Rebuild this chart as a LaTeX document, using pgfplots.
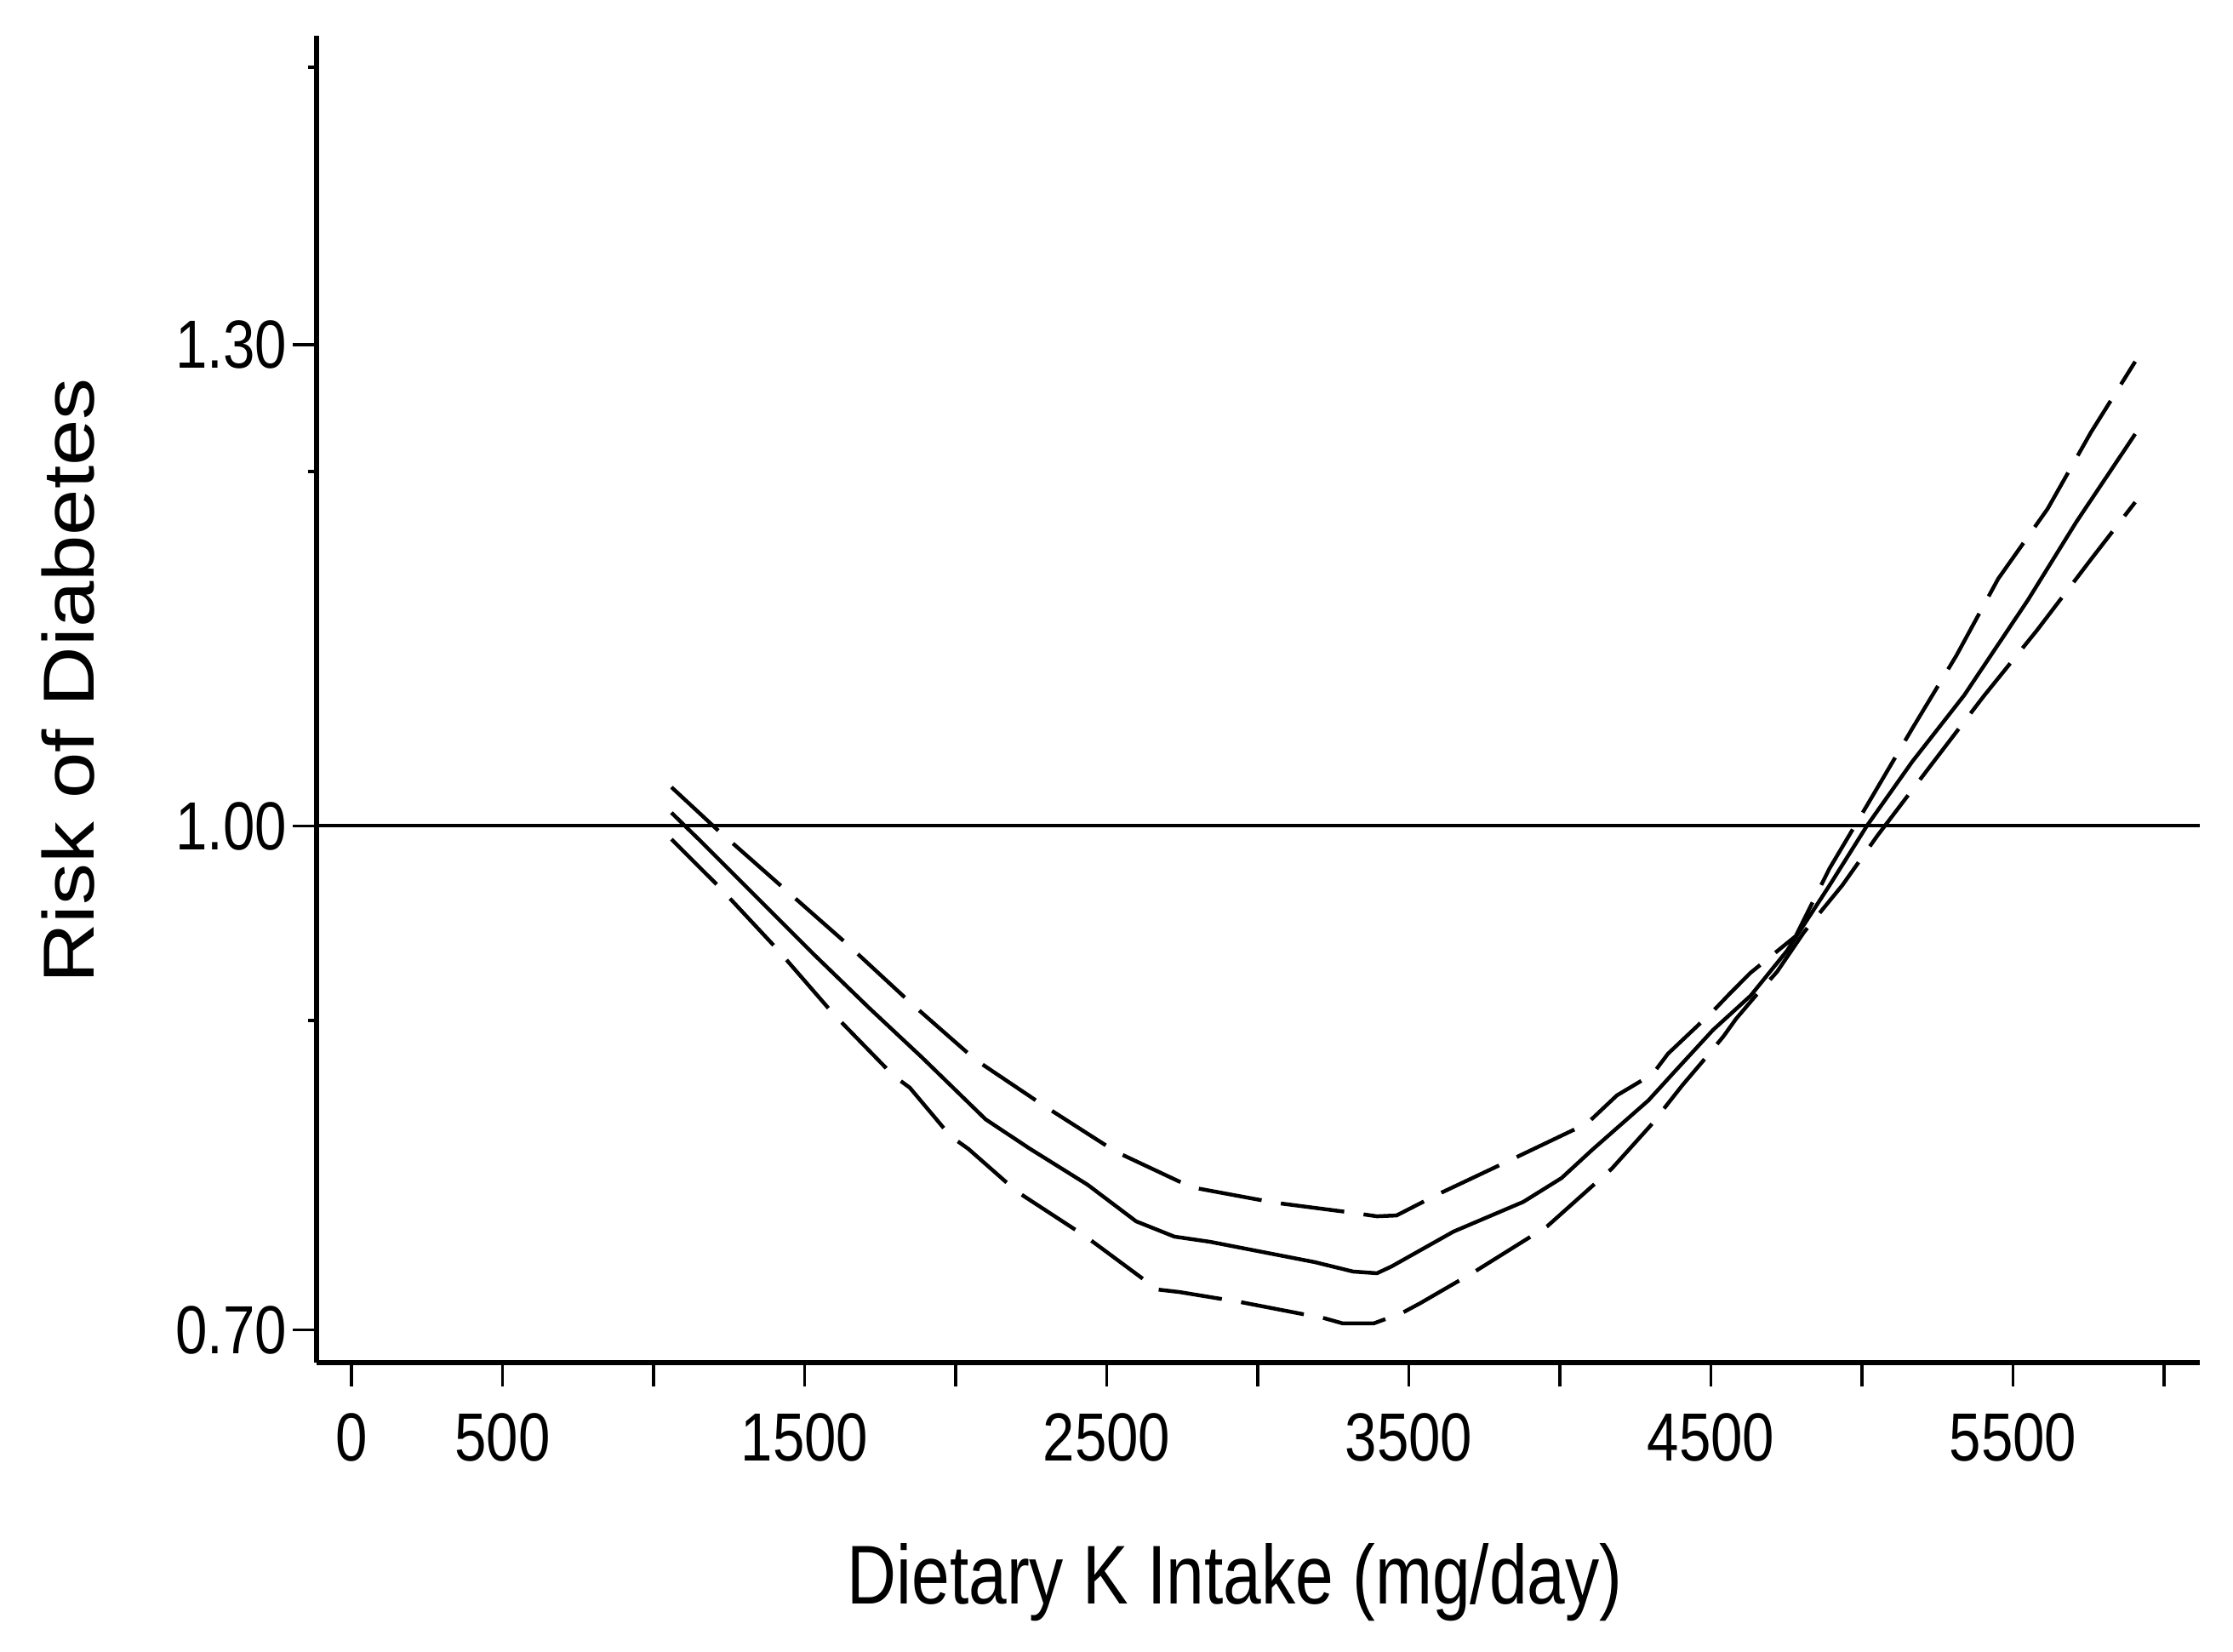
\documentclass[border=0pt]{standalone}
\usepackage{fontspec}
\usepackage{pgfplots}
\pgfplotsset{compat=1.18}
\setmainfont{Liberation Sans}
% the source image is stretched vertically, so the letters are narrowed
\newfontfamily\tickfont{Liberation Sans}[FakeStretch=0.84]
\newfontfamily\xlabfont{Liberation Sans}[FakeStretch=0.82]
\newfontfamily\ylabfont{Liberation Sans}[FakeStretch=1.15]

\begin{document}
\begin{tikzpicture}
\path[use as bounding box] (-37.2pt,-34.0pt) rectangle (225.2pt,160.1pt);
\begin{axis}[
    scale only axis,
    width=221.3pt, height=155.9pt,
    xmin=-115.5, xmax=6118,
    ymin=0.6805, ymax=1.4705,
    axis x line=bottom,
    axis y line=left,
    axis line style={-, line width=0.6pt},
    tick align=outside,
    major tick length=2.8pt,
    minor tick length=1.0pt,
    tick style={black, line width=0.35pt},
    xtick={0,500,...,6000},
    xticklabels={0,500,,1500,,2500,,3500,,4500,,5500,},
    ytick={0.70,1.00,1.2866},
    yticklabels={0.70,1.00,1.30},
    minor ytick={0.8842,1.2111,1.4518},
    tick label style={font=\tickfont\fontsize{8}{9}\selectfont, inner sep=0pt},
    xticklabel style={anchor=base, yshift=-8.8pt},
    yticklabel style={anchor=east, xshift=-0.5pt},
    xlabel={Dietary K Intake (mg/day)},
    xlabel style={font=\xlabfont\fontsize{9.8}{11}\selectfont, inner sep=0pt,
        at={(axis description cs:0.4876,-0.1822)}, anchor=base},
    ylabel={Risk of Diabetes},
    ylabel style={font=\ylabfont\fontsize{8.5}{10}\selectfont, inner sep=0pt,
        at={(axis description cs:-0.1319,0.5138)}, anchor=center},
    clip=false,
  ]

  % reference line at 1.00
  \addplot[black, line width=0.4pt] coordinates {(-115.5,1) (6118,1)};

  % upper confidence limit
  \addplot[black, line width=0.45pt, dash pattern=on 7.5pt off 2.3pt] coordinates {
    (1059.2,1.0231) (1208.5,0.9982) (1425.4,0.9638) (1633.8,0.9308)
    (1856.3,0.8938) (2064.8,0.8609) (2287.3,0.8340) (2529.6,0.8061)
    (2780.3,0.7849) (3056.3,0.7757) (3292.9,0.7702) (3394.4,0.7676)
    (3459.2,0.7681) (3591.5,0.7803) (3842.2,0.8016) (4090.1,0.8229)
    (4188.7,0.8396) (4307.0,0.8523) (4357.7,0.8644) (4507.0,0.8898)
    (4563.4,0.9004) (4631.0,0.9126) (4780.3,0.9344) (4893.0,0.9749)
    (5016.9,1.0124) (5166.2,1.0580) (5312.7,1.1016) (5450.7,1.1472)
    (5614.1,1.1888) (5757.7,1.2344) (5904.2,1.2765)
  };

  % estimate
  \addplot[black, line width=0.45pt] coordinates {
    (1059.2,1.0079) (1149.3,0.9921) (1523.9,0.9247) (1712.7,0.8918)
    (1890.1,0.8619) (2098.6,0.8254) (2242.3,0.8082) (2436.6,0.7864)
    (2597.2,0.7646) (2723.9,0.7555) (2842.3,0.7524) (3016.9,0.7463)
    (3188.7,0.7403) (3315.5,0.7347) (3394.4,0.7337) (3442.3,0.7377)
    (3647.9,0.7585) (3878.9,0.7762) (4005.6,0.7904) (4107.0,0.8072)
    (4292.9,0.8366) (4377.5,0.8533) (4507.0,0.8786) (4631.0,0.8989)
    (4752.1,0.9258) (4893.0,0.9648) (5016.9,1.0003) (5166.2,1.0383)
    (5338.0,1.0778) (5549.3,1.1346) (5709.9,1.1812) (5904.2,1.2334)
  };

  % lower confidence limit
  \addplot[black, line width=0.45pt, dash pattern=on 7.5pt off 2.3pt] coordinates {
    (1059.2,0.9921) (1214.1,0.9643) (1408.5,0.9268) (1597.2,0.8877)
    (1794.4,0.8513) (1847.9,0.8442) (1983.1,0.8153) (2042.3,0.8077)
    (2202.8,0.7823) (2431.0,0.7555) (2667.6,0.7240) (2740.8,0.7225)
    (2946.5,0.7164) (3222.5,0.7068) (3281.7,0.7038) (3383.1,0.7038)
    (3476.1,0.7099) (3538.1,0.7159) (3718.3,0.7347) (3957.7,0.7616)
    (4171.8,0.7960) (4301.4,0.8219) (4405.6,0.8457) (4470.4,0.8594)
    (4540.8,0.8746) (4583.1,0.8852) (4647.9,0.8989) (4718.3,0.9131)
    (4808.4,0.9369) (4935.2,0.9648) (5050.7,0.9942) (5228.2,1.0362)
    (5402.8,1.0773) (5580.3,1.1168) (5760.6,1.1594) (5904.2,1.1928)
  };

\end{axis}
\end{tikzpicture}
\end{document}
